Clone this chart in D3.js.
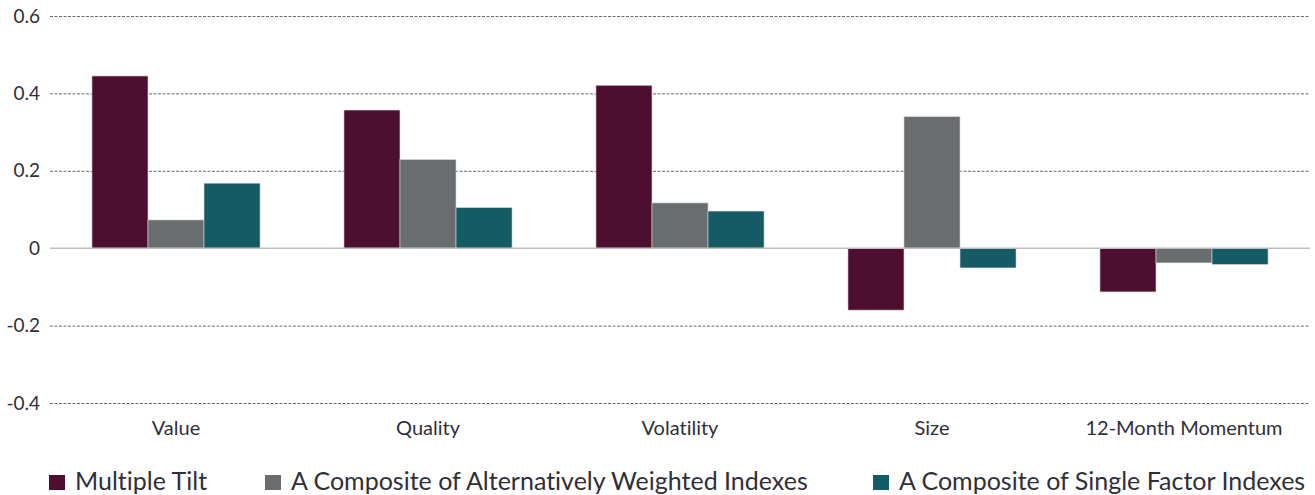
<!DOCTYPE html>
<html>
<head>
<meta charset="utf-8">
<script src="https://cdn.jsdelivr.net/npm/d3@7"></script>
<style>
  body { margin: 0; background: #fff; }
  svg { display: block; font-family: "Lato", "Liberation Sans", sans-serif; font-variant-ligatures: none; }
</style>
</head>
<body>
<svg id="chart" width="1315" height="495"></svg>
<script>
const categories = ["Value", "Quality", "Volatility", "Size", "12-Month Momentum"];
const seriesNames = ["Multiple Tilt", "A Composite of Alternatively Weighted Indexes", "A Composite of Single Factor Indexes"];
const multipleTilt = [0.445, 0.357, 0.421, -0.160, -0.113];
const altWeighted = [0.073, 0.229, 0.117, 0.340, -0.038];
const singleFactor = [0.168, 0.105, 0.096, -0.051, -0.042];
const yTicks = [-0.4, -0.2, 0, 0.2, 0.4, 0.6];
const yTickLabels = ["-0.4", "-0.2", "0", "0.2", "0.4", "0.6"];
const colors = ["#4d0e30", "#696d6f", "#155b66"];

const seriesValues = [multipleTilt, altWeighted, singleFactor];

const svg = d3.select("#chart");
const margin = {top: 16, right: 5, bottom: 92, left: 50};
const width = 1315, height = 495;

const x0 = d3.scaleBand()
    .domain(categories)
    .range([margin.left, width - margin.right])
    .paddingInner(0.333)
    .paddingOuter(0.1665);

const x1 = d3.scaleBand()
    .domain(d3.range(seriesNames.length))
    .range([0, x0.bandwidth()]);

const y = d3.scaleLinear()
    .domain([-0.4, 0.6])
    .range([height - margin.bottom, margin.top]);

// gridlines
svg.append("g")
  .selectAll("line")
  .data(yTicks.filter(d => d !== 0))
  .enter().append("line")
  .attr("x1", margin.left)
  .attr("x2", width - margin.right)
  .attr("y1", d => y(d) + 0.5)
  .attr("y2", d => y(d) + 0.5)
  .attr("stroke", "#6a6a6a")
  .attr("stroke-width", 1)
  .attr("stroke-dasharray", "3,1.5");

// y labels
svg.append("g")
  .selectAll("text")
  .data(yTicks)
  .enter().append("text")
  .attr("x", 40)
  .attr("y", d => y(d))
  .attr("dy", "0.35em")
  .attr("text-anchor", "end")
  .attr("font-size", 19)
  .attr("fill", "#2f2f3a")
  .text((d, i) => yTickLabels[i]);

// bars
const groups = svg.append("g")
  .selectAll("g")
  .data(categories)
  .enter().append("g")
  .attr("transform", d => "translate(" + x0(d) + ",0)");

groups.selectAll("rect")
  .data((c, ci) => seriesValues.map((vals, si) => ({si: si, v: vals[ci]})))
  .enter().append("rect")
  .attr("x", d => x1(d.si))
  .attr("width", x1.bandwidth())
  .attr("y", d => y(Math.max(0, d.v)))
  .attr("height", d => Math.abs(y(d.v) - y(0)))
  .attr("fill", d => colors[d.si])
  .attr("stroke", "#d6d6d6")
  .attr("stroke-width", 0.6);

// zero line
svg.append("line")
  .attr("x1", margin.left)
  .attr("x2", width - margin.right)
  .attr("y1", y(0))
  .attr("y2", y(0))
  .attr("stroke", "#bdbdbd")
  .attr("stroke-width", 1.5);

// category labels
svg.append("g")
  .selectAll("text")
  .data(categories)
  .enter().append("text")
  .attr("x", d => x0(d) + x0.bandwidth() / 2)
  .attr("y", 435)
  .attr("text-anchor", "middle")
  .attr("font-size", 20)
  .attr("fill", "#2f2f3a")
  .text(d => d);

// legend
const legendX = [49, 265, 873];
const legend = svg.append("g")
  .selectAll("g")
  .data(seriesNames)
  .enter().append("g")
  .attr("transform", (d, i) => "translate(" + legendX[i] + ",475)");

legend.append("rect")
  .attr("width", 16)
  .attr("height", 15)
  .attr("fill", (d, i) => colors[i]);

legend.append("text")
  .attr("x", 26)
  .attr("y", 15)
  .attr("font-size", 25)
  .attr("fill", "#2f2f3a")
  .text(d => d);
</script>
</body>
</html>
